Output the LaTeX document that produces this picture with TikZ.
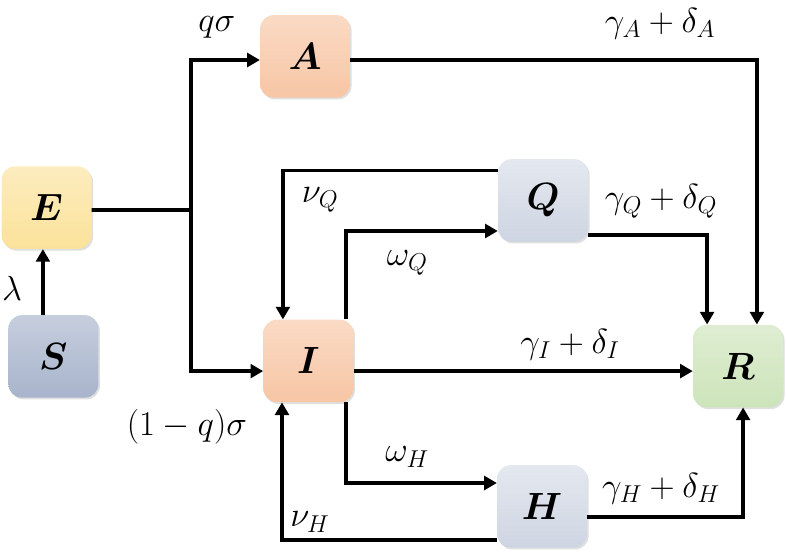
\RequirePackage{fix-cm}
\documentclass[tikz,border=0pt]{standalone}
\usepackage{amsmath}
\usepackage{bm}
\usepackage{tikz}
\usetikzlibrary{arrows.meta,shadows}

\definecolor{cE}{RGB}{251,226,155}
\definecolor{cS}{RGB}{168,180,204}
\definecolor{cA}{RGB}{247,198,165}
\definecolor{cQ}{RGB}{206,213,226}
\definecolor{cR}{RGB}{205,228,186}

\begin{document}
\begin{tikzpicture}[
    box/.style={rounded corners=0.45cm, minimum width=3cm, minimum height=2.75cm,
      font=\fontsize{36}{42}\selectfont,
      drop shadow={opacity=0.25, shadow xshift=0.05cm, shadow yshift=-0.06cm}},
    line/.style={line width=3.6pt},
    flow/.style={line width=3.6pt, -{Triangle[length=12pt,width=13pt]}},
    rate/.style={font=\fontsize{33}{38}\selectfont, inner sep=1pt}
  ]
       \useasboundingbox (0,0) rectangle (26.2,-18.47);

       \node(E)[box, top color=cE!65!white, bottom color=cE] at (1.55,-6.92) {$\bm{E}$};
       \node(S)[box, top color=cS!65!white, bottom color=cS] at (1.78,-11.88) {$\bm{S}$};
       \node(A)[box, top color=cA!65!white, bottom color=cA] at (10.17,-1.88) {$\bm{A}$};
       \node(I)[box, top color=cA!65!white, bottom color=cA] at (10.28,-12.03) {$\bm{I}$};
       \node(Q)[box, top color=cQ!55!white, bottom color=cQ] at (18.1,-6.68) {$\bm{Q}$};
       \node(H)[box, top color=cQ!55!white, bottom color=cQ] at (18.07,-16.88) {$\bm{H}$};
       \node(R)[box, top color=cR!65!white, bottom color=cR] at (24.6,-12.2) {$\bm{R}$};

       \coordinate(jn) at (6.37,-7.0);

       \draw[flow] ([xshift=-0.35cm]S.north) -- ([xshift=-0.35cm]S.north |- E.south);
       \draw[line] ([yshift=-0.08cm]E.east) -- (jn);
       \draw[flow] (jn) |- ([yshift=-0.12cm]A.west);
       \draw[flow] (jn) |- ([yshift=-0.34cm]I.west);

       \draw[flow] ([yshift=-0.12cm]A.east) -| ([xshift=0.63cm]R.north);
       \draw[flow] ([yshift=-1.15cm]Q.east) -| ([xshift=-1.03cm]R.north);
       \draw[flow] ([yshift=-0.34cm]I.east) -- ([yshift=-0.34cm]I.east -| R.west);
       \draw[flow] ([yshift=-0.35cm]H.east) -| ([xshift=0.17cm]R.south);

       \draw[flow] ([yshift=1.0cm]Q.west) -| ([xshift=-0.85cm]I.north);
       \draw[flow] ([xshift=1.25cm]I.north) |- ([yshift=-1.02cm]Q.west);
       \draw[flow] ([xshift=1.25cm]I.south) |- ([yshift=0.78cm]H.west);
       \draw[flow] ([yshift=-1.12cm]H.west) -| ([xshift=-0.88cm]I.south);

       \node(NE)[rate] at (0.4,-9.6) {$\lambda$};
       \node(NA)[rate] at (7.23,-0.9) {$q\sigma$};
       \node(NI)[rate] at (6.23,-14.23) {$(1-q)\sigma$};
       \node(NAR)[rate] at (22.0,-0.8) {$\gamma_A+\delta_A$};
       \node(NQR)[rate] at (22.03,-6.7) {$\gamma_Q+\delta_Q$};
       \node(NIR)[rate] at (19.0,-11.5) {$\gamma_I+\delta_I$};
       \node(NHR)[rate] at (22.03,-16.3) {$\gamma_H+\delta_H$};
       \node(NQI)[rate] at (10.67,-6.67) {$\nu_Q$};
       \node(NIQ)[rate] at (13.57,-8.77) {$\omega_Q$};
       \node(NIH)[rate] at (13.57,-15.23) {$\omega_H$};
       \node(NHI)[rate] at (10.33,-17.4) {$\nu_H$};

      \end{tikzpicture}
\end{document}
